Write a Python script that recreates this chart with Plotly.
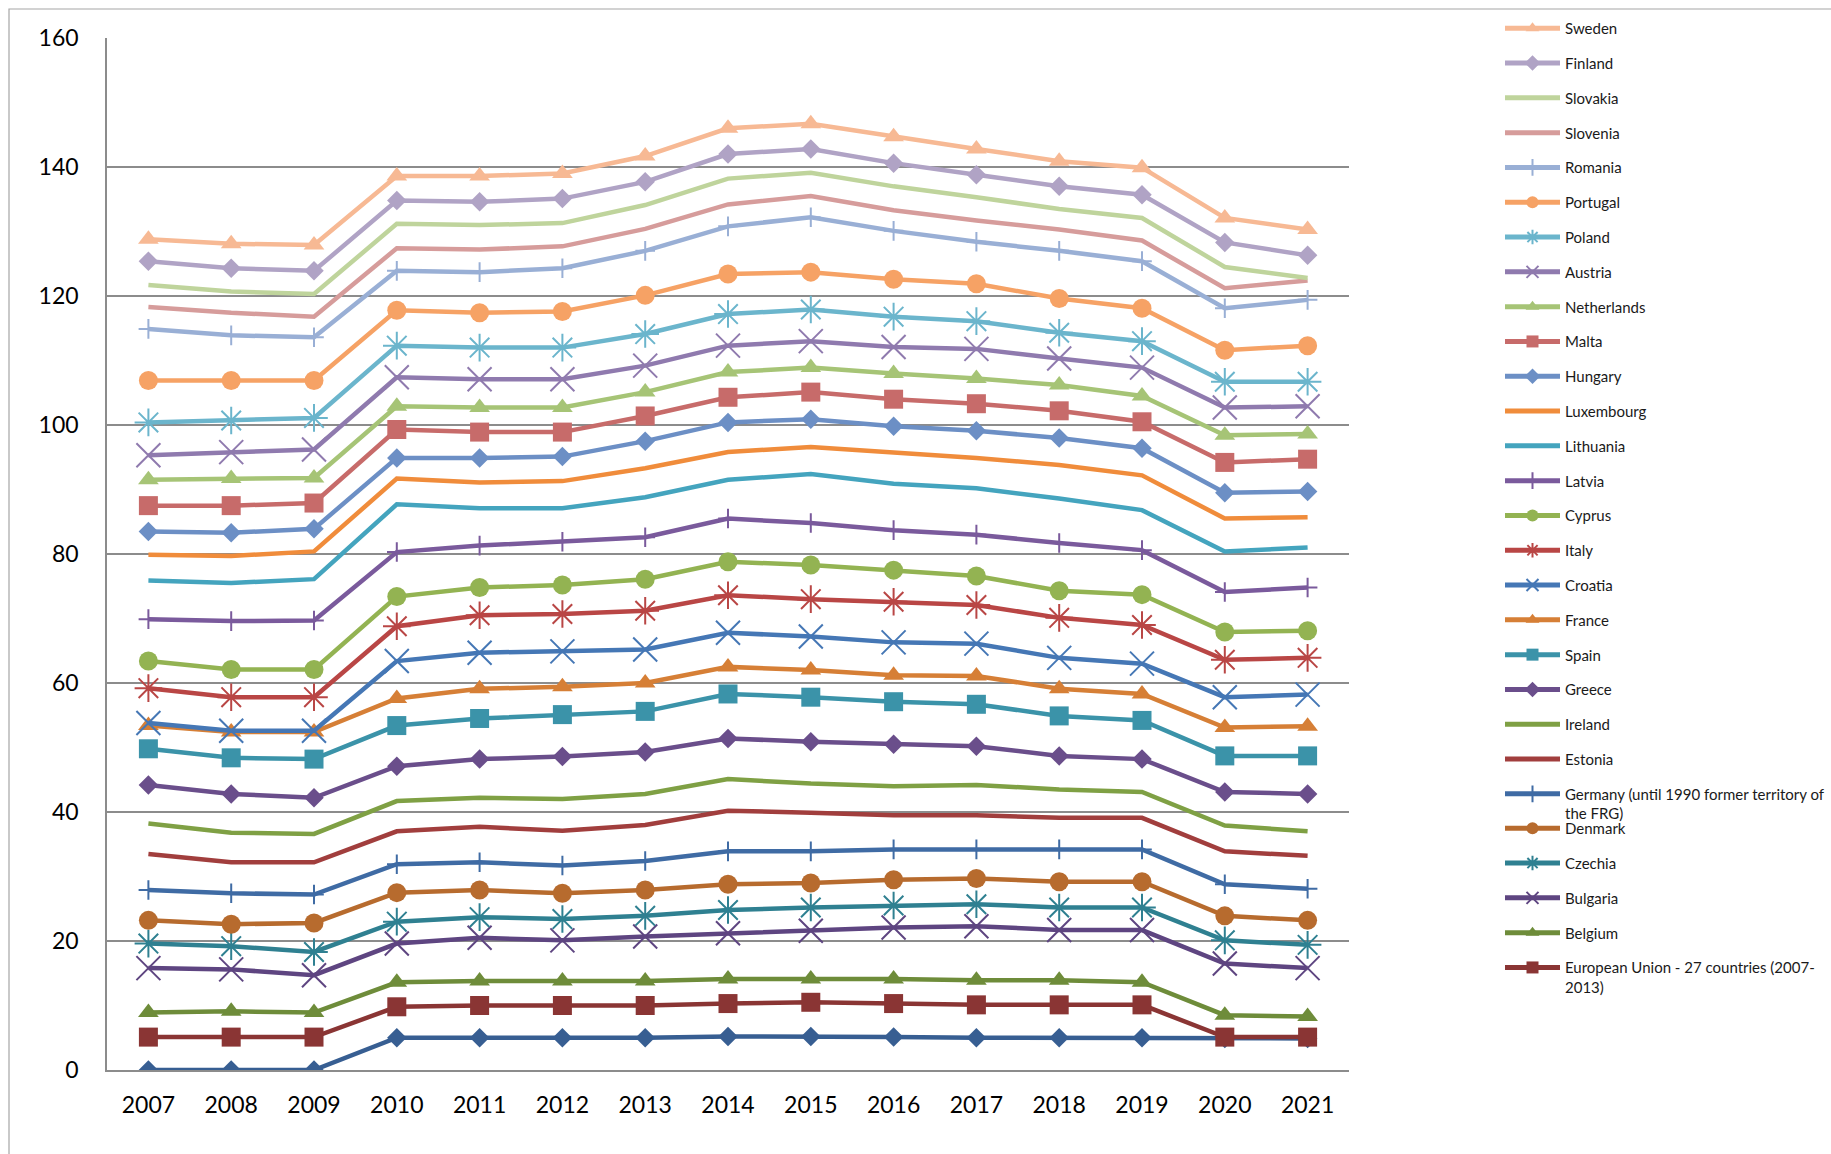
import plotly.graph_objects as go

# Reporting years
years = ["2007", "2008", "2009", "2010", "2011", "2012", "2013", "2014",
         "2015", "2016", "2017", "2018", "2019", "2020", "2021"]

# Series values (bottom of the chart first)
eu27_2020 = [0.0, 0.0, 0.0, 5.0, 5.0, 5.0, 5.0, 5.2, 5.2, 5.1, 5.0, 5.0, 5.0, 4.9, 4.9]
eu27_2007 = [5.1, 5.1, 5.1, 9.8, 10.0, 10.0, 10.0, 10.3, 10.5, 10.3, 10.1, 10.1, 10.1, 5.1, 5.1]
belgium = [8.9, 9.1, 8.9, 13.6, 13.8, 13.8, 13.8, 14.1, 14.1, 14.1, 13.9, 13.9, 13.6, 8.5, 8.3]
bulgaria = [15.8, 15.6, 14.7, 19.6, 20.5, 20.1, 20.7, 21.2, 21.6, 22.1, 22.3, 21.7, 21.7, 16.5, 15.8]
czechia = [19.6, 19.2, 18.3, 23.0, 23.7, 23.4, 23.9, 24.8, 25.2, 25.5, 25.7, 25.2, 25.2, 20.1, 19.4]
denmark = [23.2, 22.6, 22.8, 27.5, 27.9, 27.4, 27.9, 28.8, 29.0, 29.5, 29.7, 29.2, 29.2, 23.9, 23.2]
germany = [27.9, 27.4, 27.2, 31.9, 32.2, 31.7, 32.4, 33.9, 33.9, 34.2, 34.2, 34.2, 34.2, 28.8, 28.1]
estonia = [33.5, 32.2, 32.2, 37.0, 37.7, 37.1, 38.0, 40.2, 39.9, 39.5, 39.5, 39.1, 39.1, 33.9, 33.2]
ireland = [38.2, 36.8, 36.6, 41.7, 42.2, 42.0, 42.8, 45.1, 44.4, 44.0, 44.2, 43.5, 43.1, 37.9, 37.0]
greece = [44.2, 42.8, 42.2, 47.1, 48.2, 48.6, 49.3, 51.4, 50.9, 50.5, 50.2, 48.7, 48.2, 43.1, 42.8]
spain = [49.8, 48.4, 48.2, 53.4, 54.5, 55.1, 55.6, 58.3, 57.8, 57.1, 56.7, 54.9, 54.2, 48.7, 48.7]
france = [53.4, 52.4, 52.4, 57.6, 59.1, 59.4, 60.0, 62.5, 62.0, 61.2, 61.1, 59.1, 58.3, 53.1, 53.3]
croatia = [53.8, 52.6, 52.6, 63.4, 64.7, 64.9, 65.2, 67.8, 67.2, 66.3, 66.1, 63.9, 63.0, 57.8, 58.2]
italy = [59.2, 57.8, 57.8, 68.8, 70.5, 70.7, 71.2, 73.6, 73.0, 72.6, 72.1, 70.1, 69.0, 63.6, 63.9]
cyprus = [63.4, 62.1, 62.1, 73.4, 74.8, 75.2, 76.1, 78.8, 78.3, 77.5, 76.6, 74.3, 73.7, 67.9, 68.1]
latvia = [69.9, 69.6, 69.7, 80.3, 81.3, 81.9, 82.6, 85.5, 84.8, 83.7, 83.0, 81.7, 80.6, 74.1, 74.8]
lithuania = [75.9, 75.5, 76.1, 87.7, 87.1, 87.1, 88.8, 91.5, 92.4, 90.9, 90.2, 88.6, 86.8, 80.4, 81.0]
luxembourg = [79.9, 79.7, 80.4, 91.7, 91.1, 91.3, 93.3, 95.8, 96.6, 95.7, 94.9, 93.8, 92.2, 85.5, 85.7]
hungary = [83.5, 83.3, 83.9, 94.9, 94.9, 95.1, 97.5, 100.4, 100.9, 99.8, 99.1, 98.0, 96.4, 89.5, 89.7]
malta = [87.5, 87.5, 87.9, 99.3, 98.9, 98.9, 101.4, 104.3, 105.1, 104.0, 103.3, 102.2, 100.5, 94.2, 94.7]
netherlands = [91.5, 91.7, 91.8, 102.9, 102.7, 102.7, 105.1, 108.2, 108.9, 108.0, 107.2, 106.2, 104.5, 98.4, 98.6]
austria = [95.3, 95.8, 96.2, 107.4, 107.1, 107.1, 109.2, 112.3, 113.0, 112.1, 111.8, 110.3, 108.9, 102.7, 102.9]
poland = [100.4, 100.7, 101.1, 112.3, 112.0, 112.0, 114.1, 117.2, 117.9, 116.8, 116.1, 114.3, 113.0, 106.7, 106.7]
portugal = [106.9, 106.9, 106.9, 117.8, 117.4, 117.6, 120.1, 123.4, 123.7, 122.6, 121.9, 119.6, 118.1, 111.6, 112.3]
romania = [114.9, 113.9, 113.6, 123.9, 123.7, 124.3, 127.0, 130.8, 132.2, 130.1, 128.4, 127.0, 125.4, 118.1, 119.4]
slovenia = [118.3, 117.4, 116.8, 127.4, 127.2, 127.7, 130.4, 134.2, 135.5, 133.3, 131.7, 130.3, 128.6, 121.2, 122.4]
slovakia = [121.7, 120.7, 120.3, 131.2, 131.0, 131.3, 134.1, 138.2, 139.1, 137.0, 135.3, 133.5, 132.1, 124.5, 122.8]
finland = [125.4, 124.3, 123.9, 134.8, 134.6, 135.1, 137.7, 142.0, 142.8, 140.6, 138.8, 137.0, 135.7, 128.3, 126.3]
sweden = [128.8, 128.1, 127.9, 138.6, 138.6, 139.0, 141.7, 146.0, 146.7, 144.7, 142.8, 140.9, 139.9, 132.1, 130.3]

y_ticks = [0, 20, 40, 60, 80, 100, 120, 140, 160]

# name, values, colour, marker symbol (None = plain line), marker size
series = [
    ("European Union - 27 countries (from 2020)", eu27_2020, "#375E92", "diamond", 15),
    ("European Union - 27 countries (2007-<br>2013)", eu27_2007, "#8A3534", "square", 19),
    ("Belgium", belgium, "#6E8C3A", "triangle-up", 18),
    ("Bulgaria", bulgaria, "#5E4581", "x-thin-open", 24),
    ("Czechia", czechia, "#2F8091", "asterisk-open", 23),
    ("Denmark", denmark, "#B76B2E", "circle", 19),
    ("Germany (until 1990 former territory of<br>the FRG)", germany, "#3F6BA4", "cross-thin-open", 14),
    ("Estonia", estonia, "#A13E3D", None, 0),
    ("Ireland", ireland, "#7FA044", None, 0),
    ("Greece", greece, "#6A4E8B", "diamond", 15),
    ("Spain", spain, "#3B93A9", "square", 19),
    ("France", france, "#D67F36", "triangle-up", 18),
    ("Croatia", croatia, "#4577B5", "x-thin-open", 24),
    ("Italy", italy, "#B94645", "asterisk-open", 23),
    ("Cyprus", cyprus, "#93B352", "circle", 19),
    ("Latvia", latvia, "#7A5A9C", "cross-thin-open", 14),
    ("Lithuania", lithuania, "#44A4BE", None, 0),
    ("Luxembourg", luxembourg, "#F08C3B", None, 0),
    ("Hungary", hungary, "#6C8FC5", "diamond", 15),
    ("Malta", malta, "#C76B6A", "square", 19),
    ("Netherlands", netherlands, "#A6C476", "triangle-up", 18),
    ("Austria", austria, "#8F7AAE", "x-thin-open", 24),
    ("Poland", poland, "#6BB5CC", "asterisk-open", 23),
    ("Portugal", portugal, "#F6A265", "circle", 19),
    ("Romania", romania, "#99AFD5", "cross-thin-open", 14),
    ("Slovenia", slovenia, "#D69C9B", None, 0),
    ("Slovakia", slovakia, "#BFD49C", None, 0),
    ("Finland", finland, "#B0A3C5", "diamond", 15),
    ("Sweden", sweden, "#F7B994", "triangle-up", 18),
]

W, H = 1831, 1154
ML, MR, MT, MB = 107, 482, 38, 84
PW, PH = W - ML - MR, H - MT - MB


def px_x(x):
    return (x - ML) / PW


def px_y(y):
    return (H - MB - y) / PH


FONT = "Lato, 'Open Sans', sans-serif"

fig = go.Figure()
for i, (name, vals, color, symbol, size) in enumerate(series):
    if i == 0:
        legend_id, show = "legend", False
    elif i <= 5:
        legend_id, show = "legend2", True
    else:
        legend_id, show = "legend", True
    kw = dict(
        x=years, y=vals, name=name, legendgroup=f"g{i}", legend=legend_id,
        legendrank=1000 - i, showlegend=show,
        line=dict(color=color, width=4.5),
    )
    if symbol:
        open_sym = symbol.endswith("-open")
        kw["mode"] = "lines+markers"
        kw["marker"] = dict(
            symbol=symbol, size=size, color=color,
            line=dict(color=color, width=2 if open_sym else 0),
        )
    else:
        kw["mode"] = "lines"
    fig.add_trace(go.Scatter(**kw))

legend_common = dict(
    traceorder="grouped", tracegroupgap=12.3, itemwidth=55, valign="top",
    font=dict(family=FONT, size=15, color="#1a1a1a"), bgcolor="rgba(0,0,0,0)",
    borderwidth=0, xanchor="left", yanchor="top", itemsizing="constant",
    maxheight=3000,
)

fig.update_layout(
    width=W, height=H,
    margin=dict(l=ML, r=MR, t=MT, b=MB, autoexpand=False),
    paper_bgcolor="white", plot_bgcolor="white",
    font=dict(family=FONT, color="#000000"),
    legend=dict(x=px_x(1500), y=px_y(12), **legend_common),
    legend2=dict(x=px_x(1500), y=px_y(812), **legend_common),
    xaxis=dict(
        type="category", range=[-0.5, len(years) - 0.5], showgrid=False,
        showline=True, linecolor="#8C8C8C", linewidth=1.5, ticks="",
        tickfont=dict(family=FONT, size=23, color="#000000"),
        ticklabelstandoff=14, zeroline=False,
    ),
    yaxis=dict(
        range=[0, 160], tickvals=y_ticks, ticktext=[str(v) for v in y_ticks],
        showgrid=True, gridcolor="#8C8C8C", gridwidth=1.5,
        showline=True, linecolor="#8C8C8C", linewidth=1.5, ticks="",
        tickfont=dict(family=FONT, size=23, color="#000000"),
        ticklabelstandoff=22, zeroline=False,
    ),
    shapes=[
        dict(type="rect", xref="paper", yref="paper",
             x0=px_x(9), y0=px_y(H + 10), x1=px_x(W + 10), y1=px_y(9),
             line=dict(color="#A6A6A6", width=1.2), fillcolor="rgba(0,0,0,0)",
             layer="below"),
    ],
)

fig.write_html("out.html")
